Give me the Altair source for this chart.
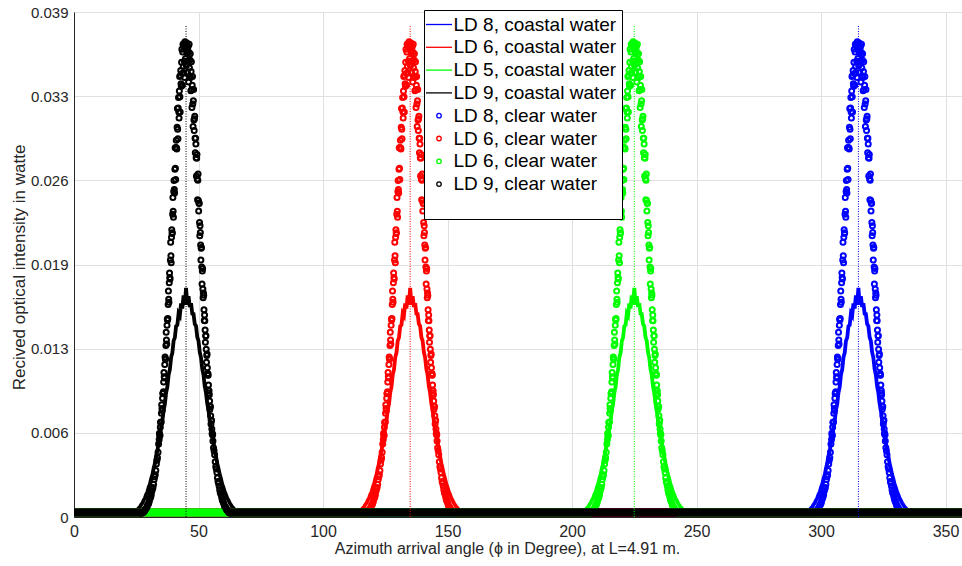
import json
import altair as alt
import numpy as np
import pandas as pd

# ---------------- axes / text ----------------
x_tick_values = [0, 50, 100, 150, 200, 250, 300, 350]
y_tick_values = [0, 0.0065, 0.013, 0.0195, 0.026, 0.0325, 0.039]
y_tick_labels = ["0", "0.006", "0.013", "0.019", "0.026", "0.033", "0.039"]
x_title = "Azimuth arrival angle (\u03d5 in Degree), at L=4.91 m."
y_title = "Recived optical intensity in watte"
x_view_max = 356.6          # the figure is cut at the right edge (axis runs to 360)
y_max = 0.039

# ---------------- series ----------------
series_colors = ["#0000ff", "#ff0000", "#00ff00", "#000000"]
peak_centers = [315, 135, 225, 45]
coastal_labels = ["LD 8, coastal water", "LD 6, coastal water",
                  "LD 5, coastal water", "LD 9, coastal water"]
clear_labels = ["LD 8, clear water", "LD 6, clear water",
                "LD 6, clear water ", "LD 9, clear water"]

# clear water (circles): two interleaved readings around each peak (offset in degrees)
clear_offsets_a = np.concatenate([np.linspace(-18, -11.25, 16),
                                  np.linspace(-10.8, 10.8, 97),
                                  np.linspace(11.25, 18, 16)])
clear_values_a = (
    [0.00030, 0.00031, 0.00039, 0.00048, 0.00062, 0.00076, 0.00097, 0.00116,
     0.00146, 0.00173, 0.00216, 0.00253, 0.00311, 0.00360, 0.00438, 0.00500]
    + [0.00598, 0.00631, 0.00694, 0.00729, 0.00802, 0.00838, 0.00917, 0.00955,
       0.01043, 0.01083, 0.01178, 0.01221, 0.01325, 0.01366, 0.01480, 0.01521,
       0.01642, 0.01681, 0.01810, 0.01849, 0.01984, 0.02018, 0.02160, 0.02190,
       0.02338, 0.02361, 0.02514, 0.02530, 0.02686, 0.02694, 0.02853, 0.02850,
       0.03010, 0.02995, 0.03158, 0.03128, 0.03290, 0.03246, 0.03410, 0.03345,
       0.03512, 0.03425, 0.03592, 0.03480, 0.03655, 0.03520, 0.03670, 0.03540]
    + [0.03640]
    + [0.03600, 0.03585, 0.03630, 0.03520, 0.03590, 0.03470, 0.03530, 0.03395,
       0.03440, 0.03300, 0.03335, 0.03190, 0.03215, 0.03065, 0.03075, 0.02925,
       0.02925, 0.02775, 0.02770, 0.02610, 0.02600, 0.02445, 0.02425, 0.02275,
       0.02250, 0.02100, 0.02075, 0.01930, 0.01900, 0.01760, 0.01730, 0.01600,
       0.01560, 0.01445, 0.01400, 0.01295, 0.01248, 0.01152, 0.01108, 0.01020,
       0.00975, 0.00896, 0.00855, 0.00782, 0.00744, 0.00679, 0.00644, 0.00586]
    + [0.00512, 0.00427, 0.00370, 0.00303, 0.00261, 0.00210, 0.00179, 0.00142,
       0.00120, 0.00093, 0.00079, 0.00060, 0.00050, 0.00037, 0.00031, 0.00030]
)
clear_offsets_b = np.concatenate([np.linspace(-17.775, -11.025, 16),
                                  np.linspace(-10.6875, 10.6875, 96),
                                  np.linspace(11.025, 17.775, 16)])
clear_values_b = (
    [0.00031, 0.00035, 0.00041, 0.00057, 0.00067, 0.00088, 0.00103, 0.00135,
     0.00156, 0.00200, 0.00228, 0.00290, 0.00327, 0.00410, 0.00457, 0.00563]
    + [0.00646, 0.00629, 0.00732, 0.00733, 0.00867, 0.00823, 0.00954, 0.00968,
       0.01116, 0.01074, 0.01235, 0.01220, 0.01426, 0.01336, 0.01530, 0.01533,
       0.01745, 0.01658, 0.01884, 0.01838, 0.02122, 0.01963, 0.02219, 0.02195,
       0.02468, 0.02314, 0.02598, 0.02503, 0.02852, 0.02606, 0.02909, 0.02842,
       0.03155, 0.02922, 0.03239, 0.03081, 0.03402, 0.03128, 0.03449, 0.03326,
       0.03612, 0.03335, 0.03651, 0.03430, 0.03631, 0.03395, 0.03624, 0.03520]
    + [0.03484, 0.03660, 0.03431, 0.03631, 0.03359, 0.03651, 0.03406, 0.03577,
       0.03292, 0.03516, 0.03162, 0.03402, 0.03016, 0.03302, 0.02984, 0.03095,
       0.02813, 0.02881, 0.02633, 0.02799, 0.02451, 0.02648, 0.02363, 0.02421,
       0.02172, 0.02197, 0.01984, 0.02082, 0.01800, 0.01920, 0.01693, 0.01712,
       0.01517, 0.01515, 0.01350, 0.01399, 0.01195, 0.01259, 0.01096, 0.01095,
       0.00958, 0.00944, 0.00832, 0.00851, 0.00718, 0.00747, 0.00642, 0.00633]
    + [0.00535, 0.00480, 0.00389, 0.00344, 0.00275, 0.00240, 0.00189, 0.00164,
       0.00127, 0.00109, 0.00083, 0.00071, 0.00054, 0.00044, 0.00033, 0.00030]
)

# coastal water (lines): intensity read around each peak
coastal_offsets = np.arange(-22, 22.01, 0.5)
coastal_values = (
    [0.00030, 0.00030, 0.00034, 0.00039, 0.00049, 0.00056, 0.00069, 0.00079,
     0.00096, 0.00108, 0.00131, 0.00147, 0.00176, 0.00195, 0.00230, 0.00255,
     0.00298, 0.00328, 0.00379, 0.00413, 0.00473, 0.00512, 0.00580, 0.00623,
     0.00699, 0.00744, 0.00827, 0.00873, 0.00961, 0.01006, 0.01098, 0.01140,
     0.01233, 0.01268, 0.01360, 0.01385, 0.01474, 0.01482, 0.01573, 0.01556,
     0.01650, 0.01610, 0.01712, 0.01640]
    + [0.01770]
    + [0.01640, 0.01705, 0.01622, 0.01650, 0.01570, 0.01568, 0.01490, 0.01475,
       0.01390, 0.01360, 0.01272, 0.01232, 0.01143, 0.01098, 0.01010, 0.00960,
       0.00876, 0.00826, 0.00746, 0.00698, 0.00625, 0.00579, 0.00514, 0.00472,
       0.00415, 0.00378, 0.00330, 0.00297, 0.00256, 0.00229, 0.00196, 0.00175,
       0.00147, 0.00130, 0.00109, 0.00095, 0.00079, 0.00069, 0.00056, 0.00049,
       0.00040, 0.00034, 0.00031, 0.00030]
)

baseline_value = 0.00035     # noise floor level away from the peaks
angle_range = [0, 360]
peak_marker_top = 0.038

# ---------------- build tables ----------------
clear_offsets = np.concatenate([clear_offsets_a, clear_offsets_b])
clear_values = list(clear_values_a) + list(clear_values_b)
coastal_frames, clear_frames, base_frames = [], [], []
for i, c in enumerate(peak_centers):
    xs = [angle_range[0]] + list(c + coastal_offsets) + [angle_range[1]]
    ys = [baseline_value] + list(coastal_values) + [baseline_value]
    coastal_frames.append(pd.DataFrame({"x": xs, "y": ys}))
    clear_frames.append(pd.DataFrame({"x": c + clear_offsets, "y": clear_values}))
    lo, hi = c + clear_offsets.min(), c + clear_offsets.max()
    base_frames.append(pd.DataFrame({"x": [angle_range[0], hi],
                                     "x2": [lo, angle_range[1]],
                                     "y": [baseline_value, baseline_value]}))

marker_df = pd.DataFrame({"x": peak_centers, "y": [0] * 4,
                          "y2": [peak_marker_top] * 4})

legend_labels = coastal_labels + clear_labels
legend_colors = series_colors + series_colors
line_path = "M-2.6,0L2.6,0"
circ_path = "M-0.45,0A0.45,0.45 0 1,0 0.45,0A0.45,0.45 0 1,0 -0.45,0"
legend_shapes = [line_path] * 4 + [circ_path] * 4
legend_df = pd.DataFrame({"label": legend_labels})

# ---------------- encodings ----------------
FONT = "Liberation Sans"
TXT = "#262626"
x_scale = alt.Scale(domain=[0, x_view_max], nice=False, zero=False)
y_scale = alt.Scale(domain=[0, y_max], nice=False, zero=False)
x_axis = alt.Axis(values=x_tick_values, title=x_title, labelFlush=False,
                  labelOverlap=False, labelFontSize=16, labelPadding=6,
                  titleFontSize=16, titleX=433, titleY=36, titleAlign="center",
                  titleBaseline="alphabetic", format="d")
label_expr = f"{json.dumps(y_tick_labels)}[indexof({json.dumps(y_tick_values)}, datum.value)]"
y_axis = alt.Axis(values=y_tick_values, title=y_title, labelExpr=label_expr,
                  labelFontSize=15, labelPadding=6, titleFontSize=17,
                  titleAngle=270, titleX=-50, titleY=255, titleAlign="center",
                  titleBaseline="alphabetic", labelOverlap=False)
X = alt.X("x:Q", scale=x_scale, axis=x_axis)
Y = alt.Y("y:Q", scale=y_scale, axis=y_axis)

layers = []
for i in range(4):
    layers.append(alt.Chart(coastal_frames[i]).mark_line(
        color=series_colors[i], strokeWidth=3.8).encode(x=X, y=Y))
for i in range(4):
    layers.append(alt.Chart(base_frames[i]).mark_rule(
        color=series_colors[i], strokeWidth=8.5).encode(x=X, x2="x2:Q", y=Y))
    layers.append(alt.Chart(clear_frames[i]).mark_point(
        shape="circle", filled=False, size=25, strokeWidth=2, opacity=1,
        color=series_colors[i]).encode(x=X, y=Y))
for i in range(4):
    layers.append(alt.Chart(marker_df.iloc[[i]]).mark_rule(
        color=series_colors[i], strokeWidth=1, strokeDash=[1, 1.5]
    ).encode(x=X, y=Y, y2="y2:Q"))

leg = alt.Legend(title=" ", titleOrient="bottom", symbolOpacity=1)
layers.append(alt.Chart(legend_df).mark_point(filled=False, opacity=0).encode(
    color=alt.Color("label:N", scale=alt.Scale(domain=legend_labels, range=legend_colors),
                    legend=leg, sort=legend_labels),
    shape=alt.Shape("label:N", scale=alt.Scale(domain=legend_labels, range=legend_shapes),
                    legend=leg, sort=legend_labels),
))

chart = alt.layer(*layers).properties(
    width=888, height=505,
    padding={"left": 74, "top": 12, "right": 0, "bottom": 49},
    autosize=alt.AutoSizeParams(type="none"),
).configure(font=FONT).configure_view(
    stroke=TXT, strokeWidth=1
).configure_axis(
    grid=True, gridColor="#e0e0e0", gridWidth=1, domainColor=TXT, domainWidth=1,
    labelColor=TXT, titleColor=TXT, labelFont=FONT, titleFont=FONT,
    titleFontWeight="normal", ticks=False, tickSize=0
).configure_legend(
    orient="none", legendX=350, legendY=-2, fillColor="white", strokeColor="black",
    padding=5, labelFont=FONT, labelFontSize=19, labelColor="black", labelLimit=0,
    symbolSize=100, symbolStrokeWidth=1.3, symbolOpacity=1, rowPadding=2.8,
    labelOffset=5, symbolOffset=0.5, titleFontSize=14, titlePadding=6, cornerRadius=0,
)

chart.save("out.html", embed_options={"renderer": "svg", "actions": False})
